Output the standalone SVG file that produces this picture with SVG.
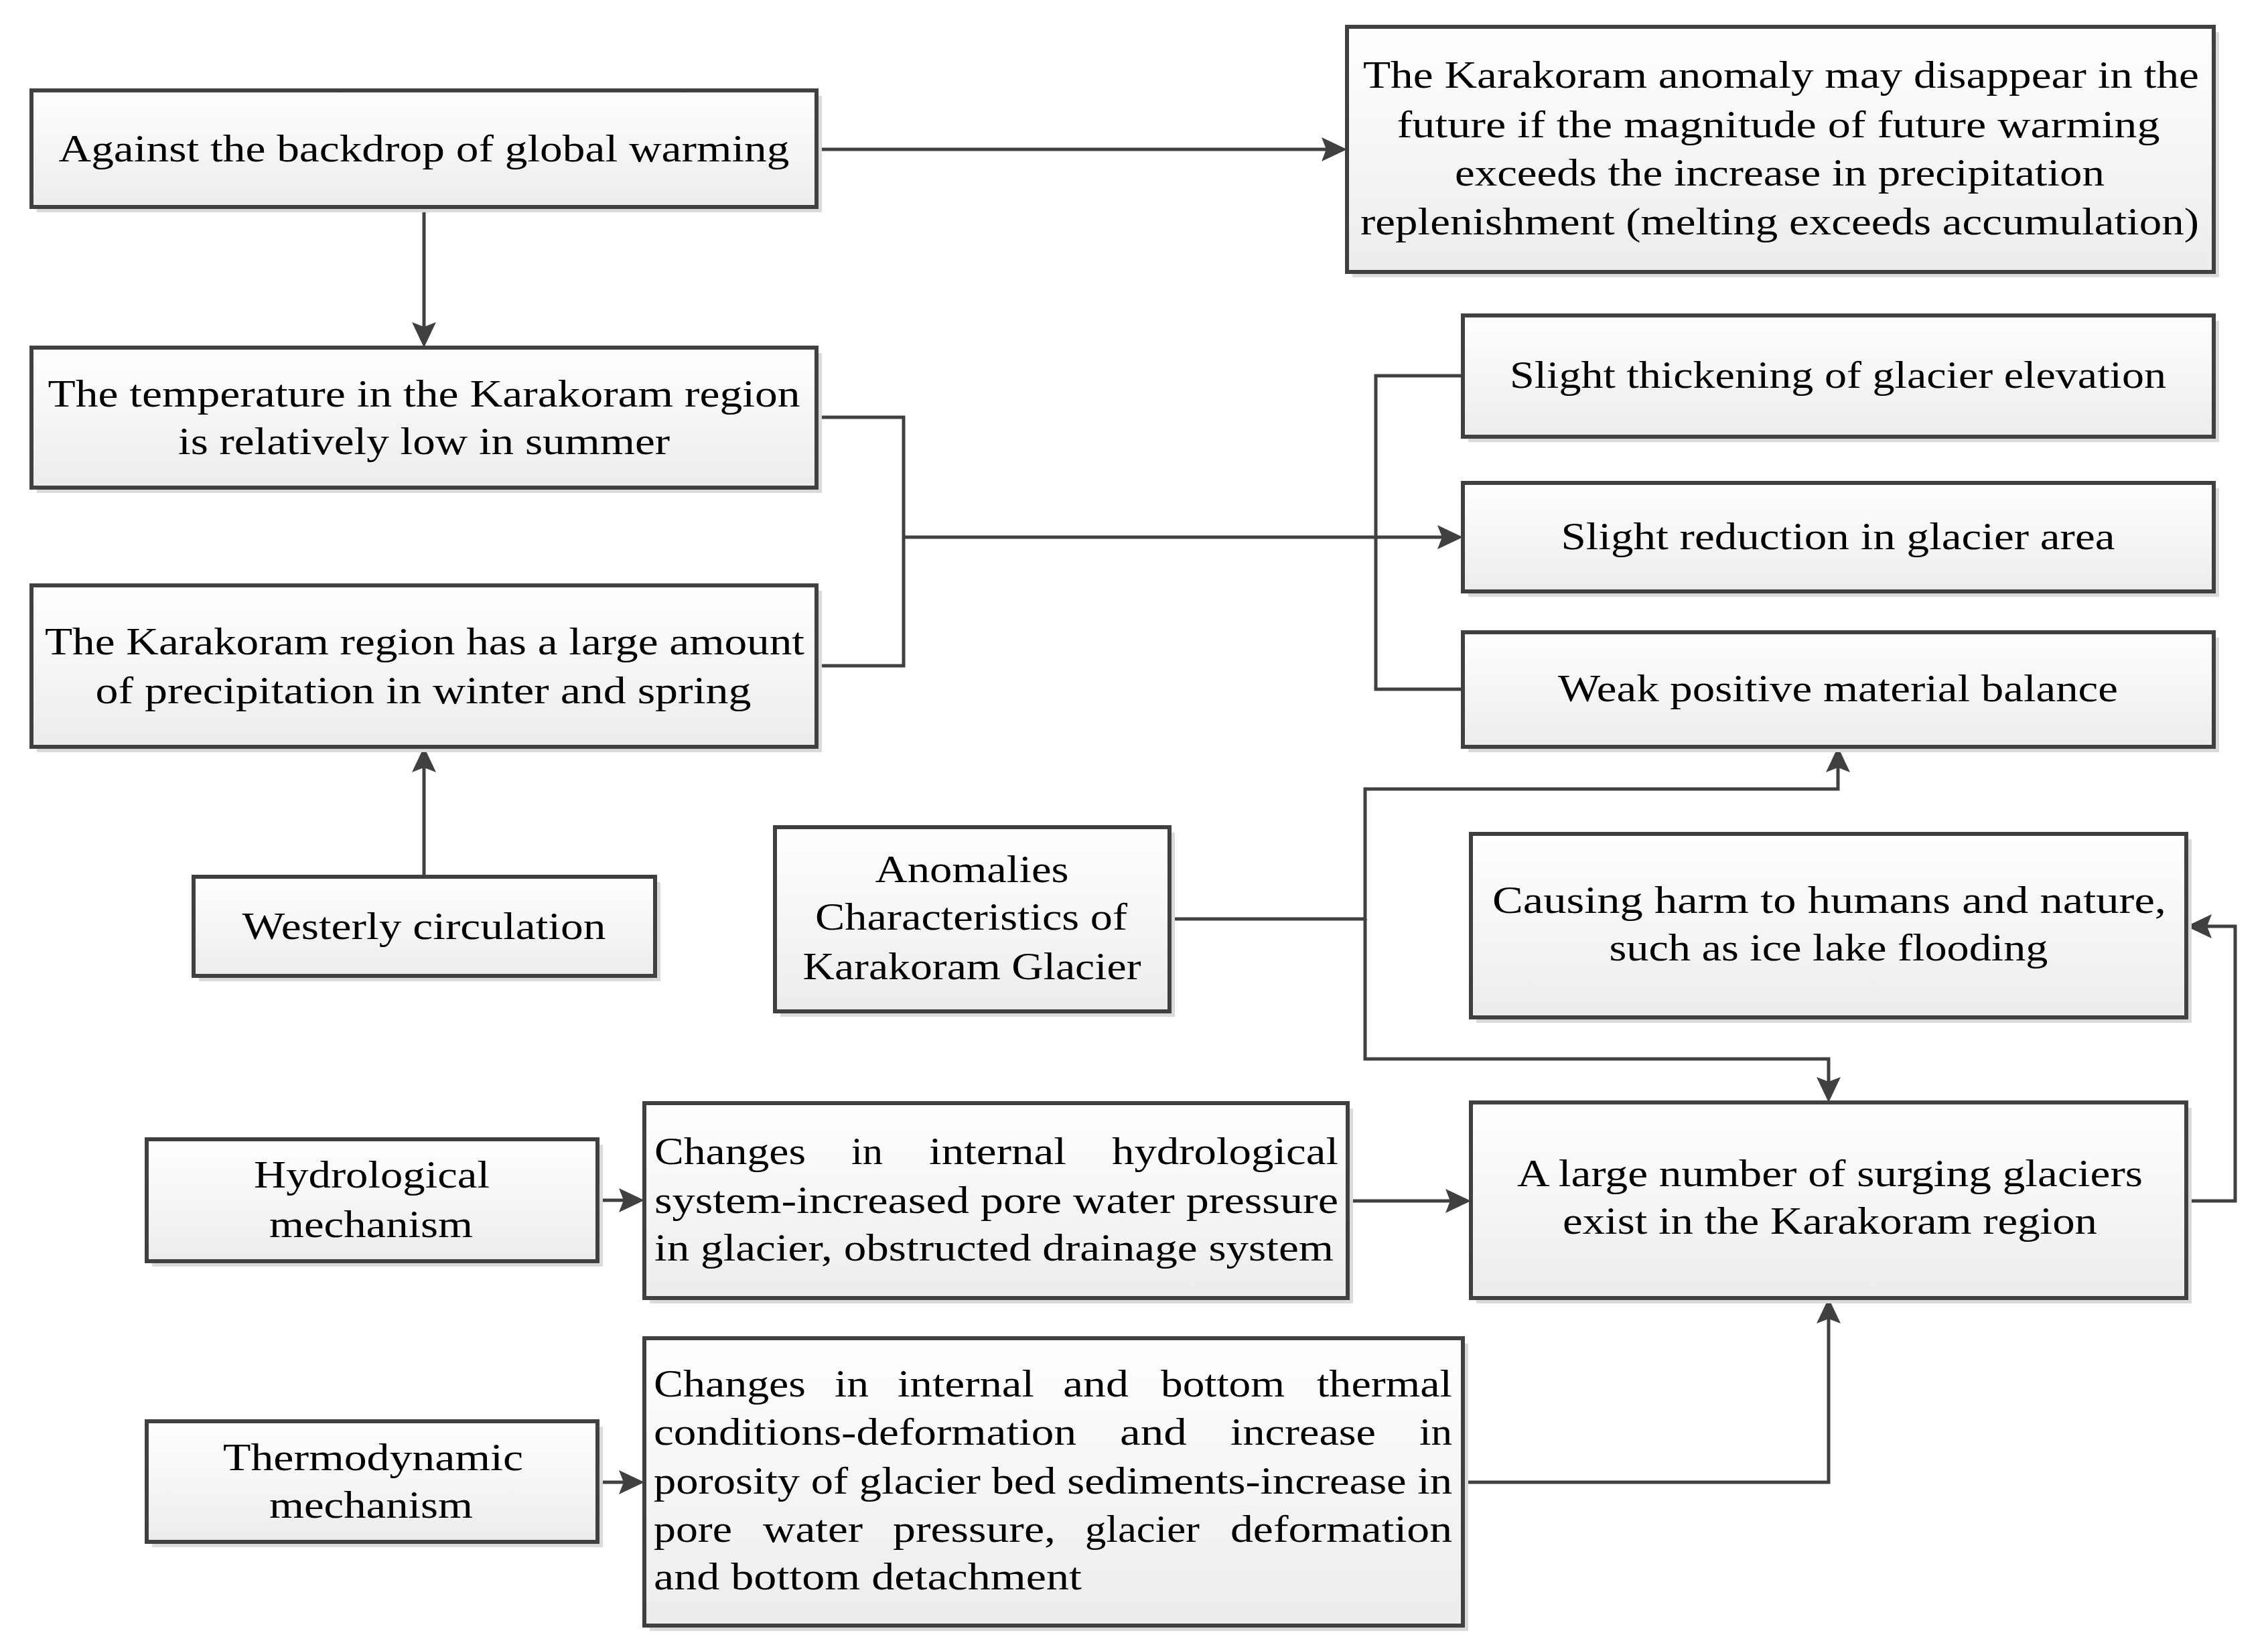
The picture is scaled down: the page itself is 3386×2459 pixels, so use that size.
<svg xmlns="http://www.w3.org/2000/svg" width="3386" height="2459" viewBox="0 0 3386 2459">
<style>
.box{fill:url(#g);stroke:#404040;stroke-width:6}
.sh{fill:#dadada}
.t{font-family:"Liberation Serif","Times New Roman",serif;font-size:56px;fill:#000}
.c{text-anchor:middle}
.con{fill:none;stroke:#404040;stroke-width:5}
</style>
<defs>
<linearGradient id="g" x1="0" y1="0" x2="0" y2="1">
<stop offset="0" stop-color="#ffffff"/>
<stop offset="1" stop-color="#ececec"/>
</linearGradient>
<marker id="a" markerUnits="userSpaceOnUse" markerWidth="40" markerHeight="40" refX="32" refY="18" orient="auto">
<path d="M0,0 L38,18 L0,36 L7,18 Z" fill="#404040"/>
</marker>
</defs>
<rect width="3386" height="2459" fill="#ffffff"/>

<g id="connectors">
<path class="con" d="M1219,223 H2005" marker-end="url(#a)"/>
<path class="con" d="M633,309 V513" marker-end="url(#a)"/>
<path class="con" d="M1219,623 H1349 V994 H1219"/>
<path class="con" d="M1349,802 H2178" marker-end="url(#a)"/>
<path class="con" d="M2184,561 H2054 V1029 H2184"/>
<path class="con" d="M633,1309 V1121" marker-end="url(#a)"/>
<path class="con" d="M1746,1372 H2038 V1178 H2744 V1121" marker-end="url(#a)"/>
<path class="con" d="M2038,1372 V1581 H2730 V1640" marker-end="url(#a)"/>
<path class="con" d="M892,1792 H956" marker-end="url(#a)"/>
<path class="con" d="M2012,1793 H2190" marker-end="url(#a)"/>
<path class="con" d="M892,2213 H956" marker-end="url(#a)"/>
<path class="con" d="M2184,2213 H2730 V1944" marker-end="url(#a)"/>
<path class="con" d="M3264,1793 H3337 V1383 H3270" marker-end="url(#a)"/>
</g>

<g id="n1">
<rect class="sh" x="55" y="143" width="1172" height="174"/>
<rect class="box" x="47" y="135" width="1172" height="174"/>
<text class="t c" x="633" y="241" textLength="1091" lengthAdjust="spacingAndGlyphs">Against the backdrop of global warming</text>
</g>

<g id="n2">
<rect class="sh" x="55" y="527" width="1172" height="209"/>
<rect class="box" x="47" y="519" width="1172" height="209"/>
<text class="t c" x="633" y="607" textLength="1123" lengthAdjust="spacingAndGlyphs">The temperature in the Karakoram region</text>
<text class="t c" x="633" y="678" textLength="734" lengthAdjust="spacingAndGlyphs">is relatively low in summer</text>
</g>

<g id="n3">
<rect class="sh" x="55" y="882" width="1172" height="241"/>
<rect class="box" x="47" y="874" width="1172" height="241"/>
<text class="t c" x="634" y="977" textLength="1134" lengthAdjust="spacingAndGlyphs">The Karakoram region has a large amount</text>
<text class="t c" x="632" y="1050" textLength="979" lengthAdjust="spacingAndGlyphs">of precipitation in winter and spring</text>
</g>

<g id="n4">
<rect class="sh" x="297" y="1317" width="689" height="148"/>
<rect class="box" x="289" y="1309" width="689" height="148"/>
<text class="t c" x="633" y="1402" textLength="543" lengthAdjust="spacingAndGlyphs">Westerly circulation</text>
</g>

<g id="n5">
<rect class="sh" x="2019" y="48" width="1294" height="366"/>
<rect class="box" x="2011" y="40" width="1294" height="366"/>
<text class="t c" x="2659" y="131" textLength="1248" lengthAdjust="spacingAndGlyphs">The Karakoram anomaly may disappear in the</text>
<text class="t c" x="2655" y="205" textLength="1139" lengthAdjust="spacingAndGlyphs">future if the magnitude of future warming</text>
<text class="t c" x="2657" y="277" textLength="970" lengthAdjust="spacingAndGlyphs">exceeds the increase in precipitation</text>
<text class="t c" x="2657" y="350" textLength="1252" lengthAdjust="spacingAndGlyphs">replenishment (melting exceeds accumulation)</text>
</g>

<g id="n6">
<rect class="sh" x="2192" y="479" width="1121" height="181"/>
<rect class="box" x="2184" y="471" width="1121" height="181"/>
<text class="t c" x="2744" y="579" textLength="980" lengthAdjust="spacingAndGlyphs">Slight thickening of glacier elevation</text>
</g>

<g id="n7">
<rect class="sh" x="2192" y="729" width="1121" height="162"/>
<rect class="box" x="2184" y="721" width="1121" height="162"/>
<text class="t c" x="2744" y="820" textLength="827" lengthAdjust="spacingAndGlyphs">Slight reduction in glacier area</text>
</g>

<g id="n8">
<rect class="sh" x="2192" y="952" width="1121" height="171"/>
<rect class="box" x="2184" y="944" width="1121" height="171"/>
<text class="t c" x="2744" y="1047" textLength="836" lengthAdjust="spacingAndGlyphs">Weak positive material balance</text>
</g>

<g id="n9">
<rect class="sh" x="1165" y="1243" width="589" height="275"/>
<rect class="box" x="1157" y="1235" width="589" height="275"/>
<text class="t c" x="1451" y="1317" textLength="289" lengthAdjust="spacingAndGlyphs">Anomalies</text>
<text class="t c" x="1450" y="1388" textLength="466" lengthAdjust="spacingAndGlyphs">Characteristics of</text>
<text class="t c" x="1451" y="1462" textLength="505" lengthAdjust="spacingAndGlyphs">Karakoram Glacier</text>
</g>

<g id="n10">
<rect class="sh" x="2204" y="1253" width="1068" height="274"/>
<rect class="box" x="2196" y="1245" width="1068" height="274"/>
<text class="t c" x="2731" y="1363" textLength="1006" lengthAdjust="spacingAndGlyphs">Causing harm to humans and nature,</text>
<text class="t c" x="2730" y="1434" textLength="655" lengthAdjust="spacingAndGlyphs">such as ice lake flooding</text>
</g>

<g id="n11">
<rect class="sh" x="227" y="1709" width="673" height="182"/>
<rect class="box" x="219" y="1701" width="673" height="182"/>
<text class="t c" x="555" y="1773" textLength="352" lengthAdjust="spacingAndGlyphs">Hydrological</text>
<text class="t c" x="554" y="1847" textLength="304" lengthAdjust="spacingAndGlyphs">mechanism</text>
</g>

<g id="n12">
<rect class="sh" x="970" y="1655" width="1050" height="291"/>
<rect class="box" x="962" y="1647" width="1050" height="291"/>
<text class="t" y="1738"><tspan x="977" textLength="226" lengthAdjust="spacingAndGlyphs">Changes</tspan><tspan x="1271" textLength="47" lengthAdjust="spacingAndGlyphs">in</tspan><tspan x="1387" textLength="205" lengthAdjust="spacingAndGlyphs">internal</tspan><tspan x="1660" textLength="338" lengthAdjust="spacingAndGlyphs">hydrological</tspan></text>
<text class="t" x="977" y="1811" textLength="1021" lengthAdjust="spacingAndGlyphs">system-increased pore water pressure</text>
<text class="t" x="977" y="1882" textLength="1014" lengthAdjust="spacingAndGlyphs">in glacier, obstructed drainage system</text>
</g>

<g id="n13">
<rect class="sh" x="2204" y="1654" width="1068" height="292"/>
<rect class="box" x="2196" y="1646" width="1068" height="292"/>
<text class="t c" x="2732" y="1771" textLength="934" lengthAdjust="spacingAndGlyphs">A large number of surging glaciers</text>
<text class="t c" x="2732" y="1842" textLength="798" lengthAdjust="spacingAndGlyphs">exist in the Karakoram region</text>
</g>

<g id="n14">
<rect class="sh" x="227" y="2130" width="673" height="180"/>
<rect class="box" x="219" y="2122" width="673" height="180"/>
<text class="t c" x="557" y="2195" textLength="448" lengthAdjust="spacingAndGlyphs">Thermodynamic</text>
<text class="t c" x="554" y="2266" textLength="304" lengthAdjust="spacingAndGlyphs">mechanism</text>
</g>

<g id="n15">
<rect class="sh" x="970" y="2006" width="1222" height="429"/>
<rect class="box" x="962" y="1998" width="1222" height="429"/>
<text class="t" y="2085"><tspan x="976" textLength="227" lengthAdjust="spacingAndGlyphs">Changes</tspan><tspan x="1246" textLength="51" lengthAdjust="spacingAndGlyphs">in</tspan><tspan x="1340" textLength="204" lengthAdjust="spacingAndGlyphs">internal</tspan><tspan x="1587" textLength="98" lengthAdjust="spacingAndGlyphs">and</tspan><tspan x="1733" textLength="185" lengthAdjust="spacingAndGlyphs">bottom</tspan><tspan x="1966" textLength="202" lengthAdjust="spacingAndGlyphs">thermal</tspan></text>
<text class="t" y="2157"><tspan x="976" textLength="631" lengthAdjust="spacingAndGlyphs">conditions-deformation</tspan><tspan x="1672" textLength="100" lengthAdjust="spacingAndGlyphs">and</tspan><tspan x="1837" textLength="217" lengthAdjust="spacingAndGlyphs">increase</tspan><tspan x="2119" textLength="49" lengthAdjust="spacingAndGlyphs">in</tspan></text>
<text class="t" x="976" y="2230" textLength="1192" lengthAdjust="spacingAndGlyphs">porosity of glacier bed sediments-increase in</text>
<text class="t" y="2302"><tspan x="976" textLength="117" lengthAdjust="spacingAndGlyphs">pore</tspan><tspan x="1139" textLength="149" lengthAdjust="spacingAndGlyphs">water</tspan><tspan x="1333" textLength="243" lengthAdjust="spacingAndGlyphs">pressure,</tspan><tspan x="1620" textLength="171" lengthAdjust="spacingAndGlyphs">glacier</tspan><tspan x="1837" textLength="331" lengthAdjust="spacingAndGlyphs">deformation</tspan></text>
<text class="t" x="976" y="2373" textLength="639" lengthAdjust="spacingAndGlyphs">and bottom detachment</text>
</g>
</svg>
